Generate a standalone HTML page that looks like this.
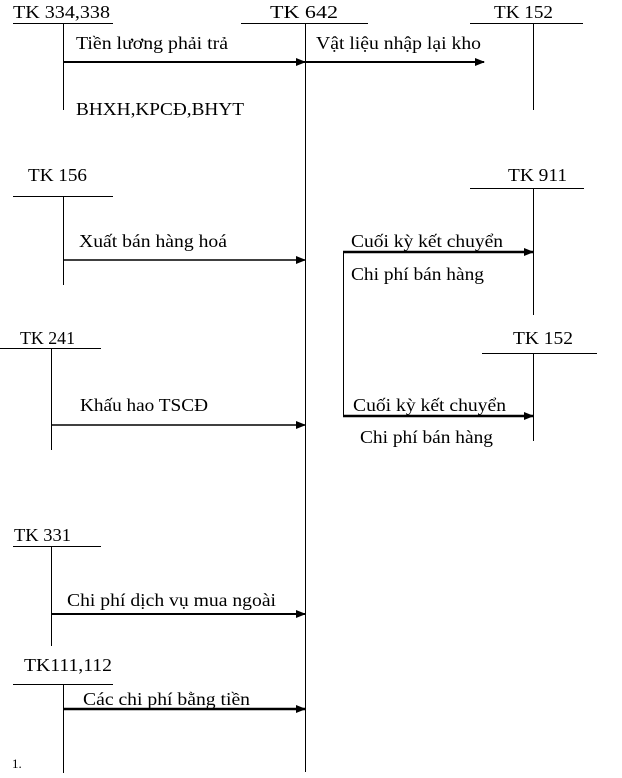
<!DOCTYPE html>
<html><head><meta charset="utf-8"><style>
html,body{margin:0;padding:0;background:#fff;}
svg{display:block;}
text{font-family:"Liberation Serif",serif;font-size:18px;fill:#000;}
</style></head><body>
<svg width="622" height="778" viewBox="0 0 622 778" xmlns="http://www.w3.org/2000/svg">
<defs>
<marker id="a" markerWidth="10" markerHeight="8" refX="9" refY="4" orient="auto" markerUnits="userSpaceOnUse">
<path d="M0,0 L10,4 L0,8 z" fill="#000"/></marker>
</defs>
<g stroke="#000" stroke-width="1" fill="none">
<line x1="13" y1="23.5" x2="113" y2="23.5"/>
<line x1="63.5" y1="23" x2="63.5" y2="110"/>
<line x1="241" y1="23.5" x2="368" y2="23.5"/>
<line x1="305.5" y1="23" x2="305.5" y2="772"/>
<line x1="470" y1="23.5" x2="583" y2="23.5"/>
<line x1="533.5" y1="23" x2="533.5" y2="110"/>
<line x1="13" y1="196.5" x2="113" y2="196.5"/>
<line x1="63.5" y1="196" x2="63.5" y2="285"/>
<line x1="470" y1="188.5" x2="584" y2="188.5"/>
<line x1="533.5" y1="188" x2="533.5" y2="315"/>
<line x1="482" y1="353.5" x2="597" y2="353.5"/>
<line x1="533.5" y1="353" x2="533.5" y2="441"/>
<line x1="343.5" y1="252" x2="343.5" y2="417"/>
<line x1="0" y1="348.5" x2="101" y2="348.5"/>
<line x1="51.5" y1="348" x2="51.5" y2="450"/>
<line x1="13" y1="546.5" x2="101" y2="546.5"/>
<line x1="51.5" y1="546" x2="51.5" y2="646"/>
<line x1="13" y1="684.5" x2="113" y2="684.5"/>
<line x1="63.5" y1="684" x2="63.5" y2="773"/>
</g>
<g stroke="#000" fill="none">
<line x1="63" y1="62" x2="305" y2="62" stroke-width="2" marker-end="url(#a)"/>
<line x1="305" y1="62" x2="484" y2="62" stroke-width="2" marker-end="url(#a)"/>
<line x1="63" y1="260" x2="305" y2="260" stroke-width="1.5" marker-end="url(#a)"/>
<line x1="343" y1="252" x2="533" y2="252" stroke-width="2.5" marker-end="url(#a)"/>
<line x1="343" y1="416" x2="533" y2="416" stroke-width="2.5" marker-end="url(#a)"/>
<line x1="51" y1="425" x2="305" y2="425" stroke-width="1.5" marker-end="url(#a)"/>
<line x1="51" y1="614" x2="305" y2="614" stroke-width="2" marker-end="url(#a)"/>
<line x1="63" y1="709" x2="305" y2="709" stroke-width="2.5" marker-end="url(#a)"/>
</g>
<g lengthAdjust="spacingAndGlyphs">
<text x="13" y="18" textLength="97" lengthAdjust="spacingAndGlyphs">TK 334,338</text>
<text x="270" y="18" textLength="68" lengthAdjust="spacingAndGlyphs">TK 642</text>
<text x="494" y="18" textLength="59" lengthAdjust="spacingAndGlyphs">TK 152</text>
<text x="76" y="49" textLength="152" lengthAdjust="spacingAndGlyphs">Tiền lương phải trả</text>
<text x="316" y="49" textLength="165" lengthAdjust="spacingAndGlyphs">Vật liệu nhập lại kho</text>
<text x="76" y="115" textLength="168" lengthAdjust="spacingAndGlyphs">BHXH,KPCĐ,BHYT</text>
<text x="28" y="181" textLength="59" lengthAdjust="spacingAndGlyphs">TK 156</text>
<text x="508" y="181" textLength="59" lengthAdjust="spacingAndGlyphs">TK 911</text>
<text x="79" y="247" textLength="148" lengthAdjust="spacingAndGlyphs">Xuất bán hàng hoá</text>
<text x="351" y="247" textLength="152" lengthAdjust="spacingAndGlyphs">Cuối kỳ kết chuyển</text>
<text x="351" y="280" textLength="133" lengthAdjust="spacingAndGlyphs">Chi phí bán hàng</text>
<text x="20" y="344" textLength="55" lengthAdjust="spacingAndGlyphs">TK 241</text>
<text x="513" y="344" textLength="60" lengthAdjust="spacingAndGlyphs">TK 152</text>
<text x="80" y="411" textLength="128" lengthAdjust="spacingAndGlyphs">Khấu hao TSCĐ</text>
<text x="353" y="411" textLength="153" lengthAdjust="spacingAndGlyphs">Cuối kỳ kết chuyển</text>
<text x="360" y="443" textLength="133" lengthAdjust="spacingAndGlyphs">Chi phí bán hàng</text>
<text x="14" y="541" textLength="57" lengthAdjust="spacingAndGlyphs">TK 331</text>
<text x="67" y="606" textLength="209" lengthAdjust="spacingAndGlyphs">Chi phí dịch vụ mua ngoài</text>
<text x="24" y="671" textLength="88" lengthAdjust="spacingAndGlyphs">TK111,112</text>
<text x="83" y="705" textLength="167" lengthAdjust="spacingAndGlyphs">Các chi phí bằng tiền</text>
</g>
<text x="12" y="768" style="font-size:13px">1.</text>
</svg>
</body></html>
